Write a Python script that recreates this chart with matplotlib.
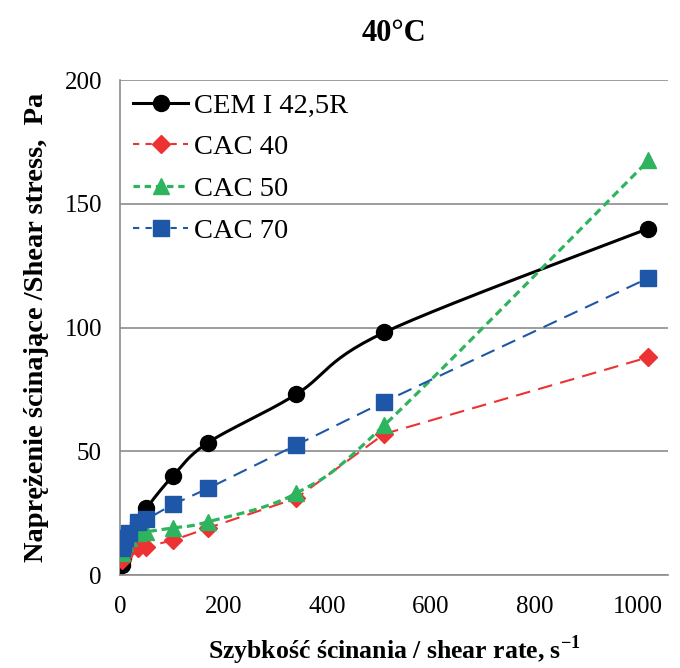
import numpy as np
import matplotlib
matplotlib.use('Agg')
import matplotlib.pyplot as plt

plt.rcParams['font.family'] = ['Liberation Serif', 'DejaVu Serif']
plt.rcParams['mathtext.fontset'] = 'custom'
plt.rcParams['mathtext.rm'] = 'Liberation Serif'
plt.rcParams['mathtext.bf'] = 'Liberation Serif:bold'

# Dane (40°C)
shear_rate = [3, 5.1, 10.2, 17, 34, 51, 102, 170, 340, 510, 1020]
cem_i_42_5r = [4, 7, 11, 15, 21, 27, 40, 53.5, 73, 98, 140]
cac_40 = [6, 7.5, 9.5, 10.5, 11, 11.5, 14, 19, 31, 57, 88]
cac_50 = [9, 11, 13, 15, 17, 17.5, 19, 21.5, 33, 60.5, 167.5]
cac_70 = [11, 12.5, 15, 17, 21.5, 22.5, 28.5, 35, 52.5, 70, 120]


def smooth(x, y, n=30):
    # gladka linia jak w Excelu (krzywe Beziera)
    x = np.asarray(x, float)
    y = np.asarray(y, float)
    p = np.column_stack([x, y])
    pts = []
    for i in range(len(p) - 1):
        p0 = p[i - 1] if i > 0 else p[i]
        p3 = p[i + 2] if i + 2 < len(p) else p[i + 1]
        c1 = p[i] + (p[i + 1] - p0) / 6
        c2 = p[i + 1] - (p3 - p[i]) / 6
        t = np.linspace(0, 1, n)[:, None]
        seg = ((1 - t) ** 3) * p[i] + 3 * ((1 - t) ** 2) * t * c1 \
            + 3 * (1 - t) * t ** 2 * c2 + t ** 3 * p[i + 1]
        pts.append(seg)
    pts = np.vstack(pts)
    return pts[:, 0], pts[:, 1]


fig = plt.figure(figsize=(6.8, 6.68), dpi=100)
ax = fig.add_axes([0.1765, 0.1392, 0.806, 0.741])

black = 'black'
red = '#EC3232'
green = '#2EB45F'
blue = '#1F57A8'

# CEM I 42,5R - linia gladka
sx, sy = smooth(shear_rate, cem_i_42_5r)
ax.plot(sx, sy, color=black, lw=2.2, zorder=3)
ax.plot(shear_rate, cem_i_42_5r, ls='none', marker='o', ms=11.5,
        color=black, zorder=4)

# CAC 40
ax.plot(shear_rate, cac_40, color=red, lw=1.5, ls=(0, (7, 4)),
        marker='D', ms=9, zorder=5)

# CAC 50 - linia gladka
sx, sy = smooth(shear_rate, cac_50)
ax.plot(sx, sy, color=green, lw=2.3, ls=(0, (2.5, 1.5)), zorder=6)
ax.plot(shear_rate, cac_50, ls='none', marker='^', ms=11.5,
        color=green, zorder=6)

# CAC 70
ax.plot(shear_rate, cac_70, color=blue, lw=1.5, ls=(0, (7, 4)),
        marker='s', ms=11, zorder=7)

# Legenda
h1, = ax.plot([], [], color=black, lw=2.2, marker='o', ms=11.5)
h2, = ax.plot([], [], color=red, lw=1.5, ls=(0, (3, 3)), marker='D', ms=9)
h3, = ax.plot([], [], color=green, lw=2.3, ls=(0, (2, 1.5)), marker='^', ms=11.5)
h4, = ax.plot([], [], color=blue, lw=1.5, ls=(0, (3, 3)), marker='s', ms=11)
ax.legend([h1, h2, h3, h4], ['CEM I 42,5R', 'CAC 40', 'CAC 50', 'CAC 70'],
          loc='upper left', bbox_to_anchor=(0.0, 1.0), frameon=False,
          fontsize=20.5, handlelength=1.95, handletextpad=0.2,
          labelspacing=0.55, borderaxespad=0.15, borderpad=0.3)

ax.set_xlim(0, 1058)
ax.set_ylim(0, 200)
ax.set_xticks([0, 200, 400, 600, 800, 1000])
ax.set_yticks([0, 50, 100, 150, 200])
ax.tick_params(axis='x', length=0, labelsize=18, pad=15)
ax.tick_params(axis='y', length=0, labelsize=18, pad=13)
ax.yaxis.grid(True, color='#8C8C8C', lw=1.2)
ax.set_axisbelow(True)
for s in ['top', 'right']:
    ax.spines[s].set_visible(False)
for s in ['left', 'bottom']:
    ax.spines[s].set_color('#8C8C8C')
    ax.spines[s].set_linewidth(1.2)

ax.set_title('40°C', fontsize=22, fontweight='bold', pad=28)
ax.set_xlabel('Szybkość ścinania / shear rate, s$^{\\mathbf{-1}}$',
              fontsize=18.5, fontweight='bold', labelpad=11)
ax.set_ylabel('Naprężenie ścinające /Shear stress,  Pa',
              fontsize=20.5, fontweight='bold', labelpad=11)

plt.savefig('out.png', dpi=100)
